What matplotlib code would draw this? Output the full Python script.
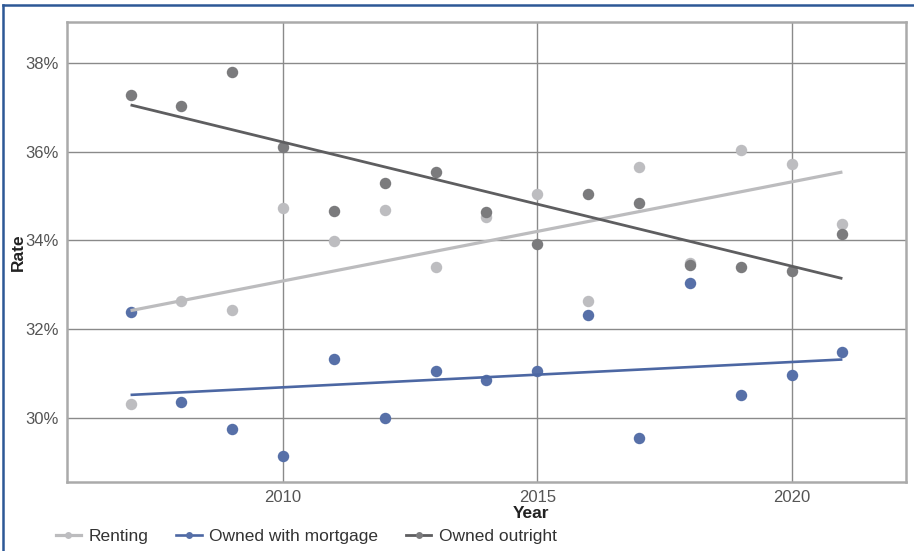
import numpy as np
import matplotlib
matplotlib.use("Agg")
import matplotlib.pyplot as plt
from matplotlib.lines import Line2D
from matplotlib.ticker import FuncFormatter

plt.rcParams['font.family'] = ['Liberation Sans Narrow', 'Liberation Sans', 'DejaVu Sans']

# values (percent)
years = [2007, 2008, 2009, 2010, 2011, 2012, 2013, 2014,
         2015, 2016, 2017, 2018, 2019, 2020, 2021]
renting = [30.32, 32.64, 32.43, 34.74, 33.99, 34.69, 33.41, 34.52,
           35.05, 32.64, 35.65, 33.50, 36.04, 35.72, 34.37]
mortgage = [32.38, 30.36, 29.75, 29.15, 31.34, 30.01, 31.05, 30.85,
            31.05, 32.33, 29.54, 33.04, 30.52, 30.96, 31.48]
outright = [37.27, 37.03, 37.79, 36.10, 34.67, 35.29, 35.54, 34.63,
            33.92, 35.05, 34.84, 33.45, 33.41, 33.32, 34.15]
series_names = ['Renting', 'Owned with mortgage', 'Owned outright']
x_ticks = [2010, 2015, 2020]
y_ticks = [30, 32, 34, 36, 38]

point_colors = ['#bdbdc0', '#5770a8', '#7b7b7d']
line_colors = ['#bcbcbe', '#4c67a3', '#5e5e60']
line_widths = [2.3, 1.9, 2.0]


def main():
    fig = plt.figure(figsize=(9.14, 5.51), dpi=100)
    ax = fig.add_axes([0.0733, 0.1252, 0.9179, 0.8349])

    x = np.array(years)
    all_series = [renting, mortgage, outright]
    for vals, pc in zip(all_series, point_colors):
        ax.scatter(x, vals, s=68, color=pc, zorder=3, linewidths=0)
    for vals, lc, lw in zip(all_series, line_colors, line_widths):
        # linear trend through the points
        k, b = np.polyfit(x, vals, 1)
        ax.plot([x[0], x[-1]], [k * x[0] + b, k * x[-1] + b], color=lc, lw=lw,
                zorder=4, solid_capstyle='butt')

    ax.set_xlim(2005.75, 2022.25)
    ax.set_ylim(28.56, 38.92)
    ax.set_xticks(x_ticks)
    ax.set_yticks(y_ticks)
    ax.yaxis.set_major_formatter(FuncFormatter(lambda v, p: '%d%%' % v))
    ax.grid(True, color='#8a8a8a', lw=1.0, zorder=0)
    ax.set_axisbelow(True)
    ax.tick_params(length=0, labelsize=12, colors='#555555', pad=6)
    for sp in ax.spines.values():
        sp.set_color('#aaaaaa')
        sp.set_linewidth(1.8)

    ax.set_xlabel('Year', fontsize=12.5, color='#222222', fontweight='bold', va='top')
    ax.xaxis.set_label_coords(0.553, -0.052)
    ax.set_ylabel('Rate', fontsize=12.5, color='#222222', fontweight='bold')
    ax.yaxis.set_label_coords(-0.049, 0.5)

    handles = [Line2D([0], [0], color=lc, lw=lw, marker='o', markersize=5,
                      markerfacecolor=pc, markeredgewidth=0)
               for pc, lc, lw in zip(point_colors, line_colors, line_widths)]
    fig.legend(handles, series_names, loc='center left', ncol=3,
               bbox_to_anchor=(0.044, 0.027), frameon=False, fontsize=12.5,
               handlelength=1.45, handletextpad=0.45, columnspacing=1.6,
               labelcolor='#333333')

    # blue frame around the figure
    fig.add_artist(Line2D([0.003, 0.003], [0.0, 0.991], color='#2d5896', lw=1.8,
                          transform=fig.transFigure))
    fig.add_artist(Line2D([0.003, 1.0], [0.991, 0.991], color='#2d5896', lw=1.8,
                          transform=fig.transFigure))

    fig.savefig('out.png', dpi=100)


if __name__ == "__main__":
    main()
